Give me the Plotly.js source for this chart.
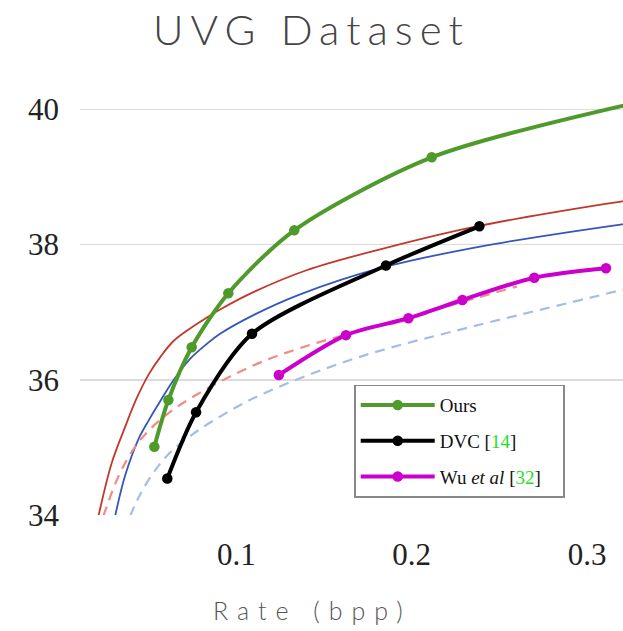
<!DOCTYPE html>
<html>
<head>
<meta charset="utf-8">
<script src="https://cdn.plot.ly/plotly-3.0.1.min.js"></script>
<style>
  html, body { margin: 0; padding: 0; background: #fff; }
  #chart { width: 623px; height: 631px; }
  .gtitle { letter-spacing: 7px; }
  .annotation-text { letter-spacing: 9px; }
</style>
</head>
<body>
<div id="chart"></div>
<script>
// ---- Data ----
const oursRate = [0.0532, 0.0612, 0.0745, 0.0954, 0.1330, 0.2114, 0.335];
const oursPSNR = [35.01, 35.70, 36.48, 37.28, 38.21, 39.29, 40.14];

const dvcRate = [0.0606, 0.0770, 0.1089, 0.1853, 0.2386];
const dvcPSNR = [34.54, 35.52, 36.68, 37.69, 38.27];

const wuRate = [0.1242, 0.1625, 0.1981, 0.2289, 0.2699, 0.3108];
const wuPSNR = [36.07, 36.66, 36.91, 37.18, 37.51, 37.65];

const redSolidRate = [0.0213, 0.0289, 0.0365, 0.0430, 0.0500, 0.0570, 0.0640, 0.0736, 0.0831, 0.0907, 0.1100, 0.1400, 0.1820, 0.2370, 0.3200, 0.3350];
const redSolidPSNR = [33.98, 34.77, 35.30, 35.72, 36.08, 36.35, 36.57, 36.76, 36.92, 37.04, 37.30, 37.62, 37.93, 38.27, 38.64, 38.70];

const blueSolidRate = [0.0308, 0.0365, 0.0441, 0.0500, 0.0546, 0.0640, 0.0736, 0.0831, 0.0907, 0.1100, 0.1360, 0.1820, 0.2390, 0.3200, 0.3350];
const blueSolidPSNR = [33.98, 34.58, 35.12, 35.40, 35.60, 35.99, 36.31, 36.53, 36.68, 36.96, 37.26, 37.65, 37.97, 38.30, 38.35];

const redDashRate = [0.0241, 0.0327, 0.0420, 0.0520, 0.0640, 0.0780, 0.0950, 0.1150, 0.1400, 0.1700, 0.2000, 0.2300, 0.2600];
const redDashPSNR = [33.98, 34.57, 35.00, 35.30, 35.56, 35.79, 36.03, 36.27, 36.50, 36.72, 36.93, 37.16, 37.38];

const blueDashRate = [0.0393, 0.0450, 0.0520, 0.0612, 0.0754, 0.0916, 0.1100, 0.1420, 0.1780, 0.2350, 0.3200, 0.3350];
const blueDashPSNR = [33.98, 34.30, 34.60, 34.90, 35.20, 35.47, 35.73, 36.08, 36.40, 36.79, 37.33, 37.43];

const xTickVals = [0.1, 0.2, 0.3];
const xTickText = ['0.1', '0.2', '0.3'];
const yTickVals = [34, 36, 38, 40];
const yTickText = ['34', '36', '38', '40'];

const legendNames = [
  'Ours',
  'DVC [<span style="color:#1ee01e">14</span>]',
  'Wu <i>et al</i> [<span style="color:#1ee01e">32</span>]'
];

// ---- Traces ----
function thin(x, y, color, dash, width) {
  return {
    x: x, y: y, type: 'scatter', mode: 'lines', showlegend: false, hoverinfo: 'skip',
    line: { color: color, width: width, dash: dash, shape: 'spline', smoothing: 1 }
  };
}
function thick(x, y, color, name, group) {
  return {
    x: x, y: y, type: 'scatter', mode: 'lines+markers', name: name, legendgroup: group,
    line: { color: color, width: 4, shape: 'spline', smoothing: 0.8 },
    marker: { color: color, size: 10.5 }
  };
}

const traces = [
  thin(redSolidRate, redSolidPSNR, '#c0392b', 'solid', 1.8),
  thin(blueSolidRate, blueSolidPSNR, '#3558b8', 'solid', 1.8),
  thin(redDashRate, redDashPSNR, '#f08c84', '10px,7px', 2.2),
  thin(blueDashRate, blueDashPSNR, '#a6bce8', '10px,7px', 2.2),
  thick(oursRate, oursPSNR, '#4e9a2a', legendNames[0], 'g1'),
  thick(dvcRate, dvcPSNR, '#000000', legendNames[1], 'g2'),
  thick(wuRate, wuPSNR, '#cc00cc', legendNames[2], 'g3')
];

const layout = {
  width: 623, height: 631,
  margin: { l: 80, r: 0, t: 62, b: 116, pad: 0 },
  paper_bgcolor: '#ffffff', plot_bgcolor: '#ffffff',
  title: {
    text: 'UVG Dataset',
    x: 0.5, xref: 'container', xanchor: 'center',
    y: 1 - 30 / 631, yref: 'container', yanchor: 'middle',
    font: { family: 'Lato', size: 42, weight: 300, color: '#444444' }
  },
  xaxis: {
    range: [0.0108, 0.3205],
    showgrid: false, zeroline: false, showline: false,
    tickmode: 'array', tickvals: xTickVals, ticktext: xTickText,
    ticks: '', ticklabelstandoff: 18,
    tickfont: { family: 'Liberation Serif', size: 31, color: '#222' },
    fixedrange: true
  },
  yaxis: {
    range: [34, 40.7],
    showgrid: true, gridcolor: '#dcdcdc', gridwidth: 1.5,
    zeroline: false, showline: false,
    tickmode: 'array', tickvals: yTickVals, ticktext: yTickText,
    ticks: '', ticklabelstandoff: 20,
    tickfont: { family: 'Liberation Serif', size: 31, color: '#222' },
    fixedrange: true
  },
  showlegend: true,
  legend: {
    x: 0.505, y: 0.2877, xanchor: 'left', yanchor: 'top',
    bgcolor: '#ffffff', bordercolor: '#888888', borderwidth: 1.5,
    font: { family: 'Liberation Serif', size: 19, color: '#111' },
    itemwidth: 74, tracegroupgap: 8, traceorder: 'grouped'
  },
  annotations: [{
    text: 'Rate (bpp)', xref: 'paper', yref: 'paper',
    x: (312 - 80) / 543, y: -(610 - 515.3) / 453,
    xanchor: 'center', yanchor: 'middle', showarrow: false,
    font: { family: 'Lato', size: 25, weight: 300, color: '#555555' }
  }]
};

Plotly.newPlot('chart', traces, layout, { displayModeBar: false, staticPlot: true }).then(function () {
  // widen the legend frame a little to match the reference's right padding
  const bg = document.querySelector('.legend rect.bg');
  if (bg) {
    const w = parseFloat(bg.getAttribute('width'));
    if (w && w < 209) bg.setAttribute('width', 209);
  }
});
</script>
</body>
</html>
